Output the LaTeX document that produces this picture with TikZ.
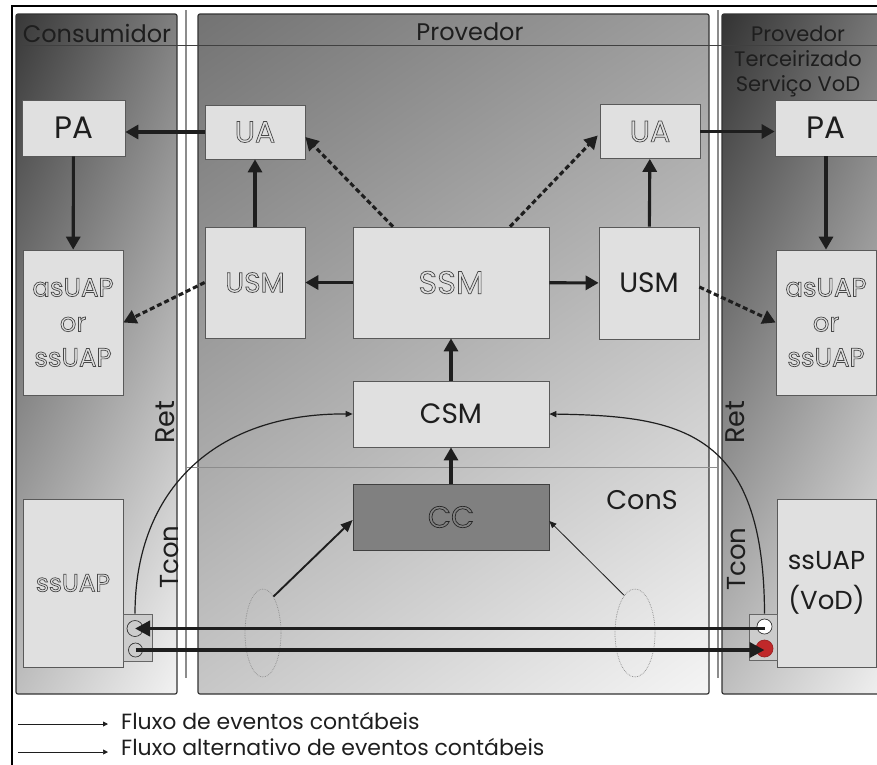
\documentclass[tikz,border=0pt]{standalone}
\usepackage{fontspec}
\setmainfont{Poppins}
\usepackage{xcolor}
\usepackage{tikz}
\usetikzlibrary{arrows.meta, shapes.geometric, shadings, calc}

\definecolor{boxgray}{HTML}{E0E0E0}
\definecolor{ccgray}{HTML}{808080}
\definecolor{inkgray}{HTML}{1E1E1E}
\definecolor{portred}{HTML}{C0282A}

\newcommand{\hollowtxt}[1]{\special{pdf:literal direct 1 Tr}#1\special{pdf:literal direct 0 Tr}}
\newcommand{\fsz}[2]{\fontsize{#1}{#2}\selectfont}

\begin{document}
\begin{tikzpicture}[
      x=1pt, y=-1pt,
      box/.style={draw=black!65, line width=0.7pt, fill=boxgray, inner sep=0pt, align=center, text=inkgray},
      hollow/.style={box, text=black!72},
      panel/.style={draw=black!80, line width=1.2pt, rounded corners=2pt},
      sep/.style={black!45, line width=1.6pt},
      port/.style={draw=black!60, line width=0.6pt, fill=black!20, inner sep=0pt},
      dot/.style={circle, draw=black!80, line width=0.7pt, inner sep=0pt},
      ell/.style={ellipse, draw=black!45, densely dotted, line width=0.7pt, inner sep=0pt},
      head/.style={text=inkgray, inner sep=0pt, font=\fsz{24}{25}},
      lbl/.style={text=inkgray, inner sep=0pt, font=\fsz{27}{27}},
      arr/.style={line width=3.1pt, draw=inkgray, -{Triangle[length=13pt, width=14pt]}},
      dasharr/.style={arr, dash pattern=on 5pt off 3pt},
      bigarr/.style={line width=3.8pt, draw=inkgray, -{Triangle[length=15pt, width=15pt]}},
      medarr/.style={line width=1.9pt, draw=inkgray, -{Triangle[length=12pt, width=10pt]}},
      thinarr/.style={line width=1.2pt, draw=inkgray, -{Triangle[length=7pt, width=6pt]}},
      legarr/.style={line width=0.9pt, draw=inkgray, -{Triangle[length=5pt, width=5pt]}}
    ]
    \useasboundingbox (0,0) rectangle (877,764);

    % Panels
    \shadedraw[panel, upper left=black!78, upper right=black!50, lower left=black!25, lower right=black!5]
      (16,14) rectangle (177,694);
    \shadedraw[panel, upper left=black!55, upper right=black!38, lower left=black!22, lower right=black!4]
      (198,14) rectangle (709,694);
    \shadedraw[panel, upper left=black!80, upper right=black!52, lower left=black!25, lower right=black!5]
      (722,14) rectangle (890,694);
    \draw[sep] (186,10) -- (186,678);
    \draw[sep] (718,10) -- (718,678);
    \draw[sep, line width=0.8pt] (186,467) -- (717,467);
    \draw[black!75, line width=1pt] (20,45) -- (890,45);
    \draw[line width=2.4pt] (890,6) -- (12,6) -- (12,770);

    \node[head] (hCons) at (97,33) {Consumidor};
    \node[head] (hProv) at (470,32) {Provedor};
    \node[head, align=center, font=\fsz{21}{25}] (hTerc) at (798,61) {Provedor\\Terceirizado\\Serviço VoD};

    % Nodes
    \node[box, font=\fsz{31}{31}, minimum width=103, minimum height=56] (paL) at (73.5,128) {PA};
    \node[hollow, font=\fsz{30}{30}, minimum width=100, minimum height=54] (uaL) at (255,132) {\hollowtxt{UA}};
    \node[hollow, font=\fsz{30}{30}, minimum width=100, minimum height=54] (uaR) at (650,131.5) {\hollowtxt{UA}};
    \node[box, font=\fsz{31}{31}, minimum width=102, minimum height=56] (paR) at (826,128) {PA};

    \node[hollow, font=\fsz{28}{28}, minimum width=100, minimum height=111] (usmL) at (255,282.5) {\hollowtxt{USM}};
    \node[hollow, font=\fsz{32}{32}, minimum width=196, minimum height=111] (ssm) at (451,282.5) {\hollowtxt{SSM}};
    \node[box, font=\fsz{28}{28}, minimum width=100, minimum height=112] (usmR) at (649,283) {USM};

    \node[hollow, font=\fsz{26}{35}, minimum width=100, minimum height=145] (asL) at (73,322.5) {\hollowtxt{asUAP\\or\\ssUAP}};
    \node[hollow, font=\fsz{26}{35}, minimum width=100, minimum height=145] (asR) at (826,322.5) {\hollowtxt{asUAP\\or\\ssUAP}};

    \node[box, font=\fsz{28}{28}, minimum width=196, minimum height=66] (csm) at (451,414) {CSM};
    \node[hollow, fill=ccgray, draw=black!75, text=black!85, font=\fsz{30}{30}, minimum width=196, minimum height=66] (cc) at (451,517) {\hollowtxt{CC}};

    \node[hollow, font=\fsz{25}{25}, minimum width=100, minimum height=168] (ssL) at (73,583) {\hollowtxt{ssUAP}};
    \node[box, font=\fsz{26}{40}, minimum width=99, minimum height=168] (ssR) at (826.5,583) {ssUAP\\(VoD)};

    \node[port, minimum width=29, minimum height=47] (portL) at (137.5,637.5) {};
    \node[port, minimum width=28, minimum height=46] (portR) at (763,637) {};
    \node[dot, fill=black!20, minimum size=16] (cLu) at (135,628.5) {};
    \node[dot, fill=black!20, minimum size=14] (cLd) at (135.5,650) {};
    \node[dot, fill=white, minimum size=15] (cRu) at (764.5,626.5) {};
    \node[dot, draw=portred!80!black, fill=portred, minimum size=17] (cRd) at (764.5,648.5) {};

    \node[ell, minimum width=36, minimum height=88] (elL) at (263,633) {};
    \node[ell, minimum width=40, minimum height=88] (elR) at (635,633) {};

    \node[lbl, rotate=90] (retL) at (165,422) {Ret};
    \node[lbl, rotate=90] (retR) at (735,422) {Ret};
    \node[lbl, rotate=90, font=\fsz{26}{26}] (tconL) at (170,557) {Tcon};
    \node[lbl, rotate=90, font=\fsz{26}{26}] (tconR) at (737,559) {Tcon};
    \node[lbl] (cons) at (642,500) {ConS};

    % Edges
    \draw[arr] (uaL.west) -- (uaL.west -| paL.east);
    \draw[arr] (paL) -- (asL);
    \draw[arr] (usmL) -- (uaL);
    \draw[arr] (ssm) -- (usmL);
    \draw[arr] (ssm) -- (usmR);
    \draw[arr] (usmR) -- (uaR);
    \draw[arr] (uaR.east) -- (uaR.east -| paR.west);
    \draw[arr] (paR) -- (asR);
    \draw[arr] (csm) -- (ssm);
    \draw[arr] (cc) -- (csm);

    \draw[dasharr] ($(ssm.north)+(-58,0)$) -- ($(uaL.east)+(0,5)$);
    \draw[dasharr] ($(ssm.north)+(59,0)$) -- ($(uaR.west)+(-2,4)$);
    \draw[dasharr] (usmL.west) -- (asL.east);
    \draw[dasharr] ($(usmR.east)+(0,4)$) -- (asR.west);

    \draw[thinarr] (cLu |- portL.north) .. controls (135,490) and (215,413) .. (csm.west);
    \draw[thinarr] (cRu |- portR.north) .. controls (764,430) and (680,416) .. (csm.east);

    \draw[medarr] (elL.74) -- ($(cc.west)+(0,3)$);
    \draw[thinarr, line width=0.8pt] (elR.106) -- ($(cc.east)+(0,4)$);

    \draw[bigarr] (cLu -| cRu) -- (cLu.center);
    \draw[bigarr] (cLd.center) -- (cLd -| cRd);

    % Legend
    \coordinate (lgA) at (18,724);
    \coordinate (lgB) at (108,724);
    \coordinate (lgC) at (18,752);
    \coordinate (lgD) at (108,752);
    \draw[legarr] (lgA) -- (lgB);
    \draw[legarr, line width=0.5pt] (lgC) -- (lgD);
    \node[head, anchor=west, font=\fsz{22}{22}] (lg1) at (121,721) {Fluxo de eventos contábeis};
    \node[head, anchor=west, font=\fsz{22}{22}] (lg2) at (121,747) {Fluxo alternativo de eventos contábeis};
  \end{tikzpicture}
\end{document}
